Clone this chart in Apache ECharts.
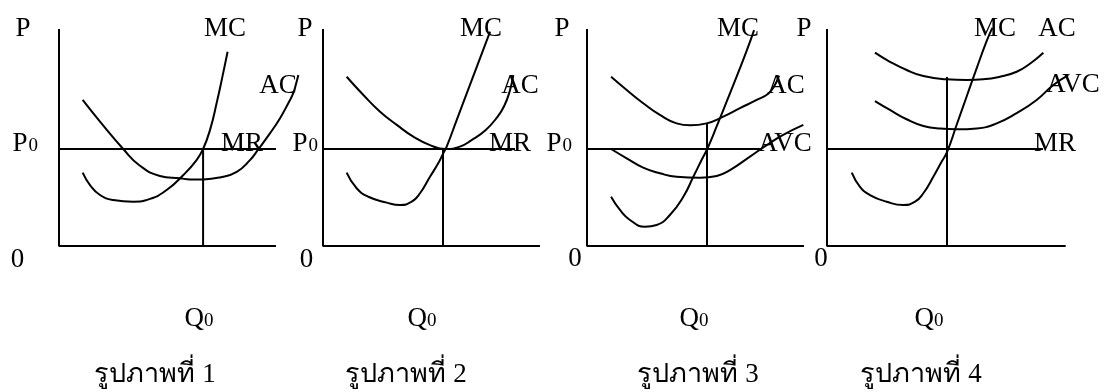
<!DOCTYPE html>
<html>
<head>
<meta charset="utf-8">
<script src="https://cdn.jsdelivr.net/npm/echarts@6/dist/echarts.min.js"></script>
<style>
html,body{margin:0;padding:0;background:#fff;}
#c{width:1105px;height:392px;}
</style>
</head>
<body>
<div id="c"></div>
<script>
// ---- data (units: Q horizontal, P vertical) ----
const P0 = 4.47;
const axisTopP = 10;                       // height of the P axis
const axisEndQ = [10, 10, 10, 11];         // length of the Q axis per panel
// Panel 1
const p1MC = [[1.09,3.38],[1.43,2.81],[1.89,2.35],[2.50,2.12],[3.42,2.04],[4.19,2.17],[4.96,2.58],[5.73,3.27],[6.34,3.96],[6.64,4.47],[6.96,5.35],[7.27,6.61],[7.57,7.99],[7.77,8.95]];
const p1AC = [[1.09,6.73],[1.89,5.73],[2.96,4.47],[3.73,3.70],[4.65,3.23],[5.58,3.12],[6.04,3.07],[6.65,3.07],[7.42,3.16],[8.19,3.42],[8.80,3.96],[9.18,4.45],[9.72,5.19],[10.18,5.88],[10.56,6.57],[10.79,7.03],[10.95,7.57],[11.03,7.88]];
const p1MRend = 10.0;
const p1Q0 = 6.64;
const p1Q0top = 4.47;
// Panel 2
const p2MC = [[1.09,3.38],[1.55,2.66],[2.09,2.27],[2.94,2.00],[3.55,1.89],[4.09,2.04],[4.47,2.43],[4.93,3.19],[5.31,3.81],[5.54,4.27],[5.70,4.58],[6.16,5.80],[6.62,7.02],[7.16,8.45],[7.70,9.88]];
const p2AC = [[1.09,7.80],[1.86,6.96],[2.63,6.19],[3.40,5.58],[4.16,5.04],[4.93,4.65],[5.65,4.47],[6.31,4.58],[6.85,4.88],[7.50,5.35],[8.00,5.90],[8.35,6.45],[8.62,7.19],[8.77,7.88]];
const p2MRend = 8.85;
const p2Q0 = 5.53;
const p2Q0top = 4.47;
// Panel 3
const p3MC = [[1.11,2.27],[1.52,1.66],[1.98,1.20],[2.67,0.89],[3.21,0.97],[3.82,1.43],[4.44,2.27],[4.90,3.19],[5.28,3.96],[5.54,4.47],[5.98,5.52],[6.44,6.66],[6.90,7.82],[7.36,9.00],[7.70,9.95]];
const p3AC = [[1.11,7.80],[1.83,7.19],[2.59,6.58],[3.36,6.04],[4.13,5.65],[4.75,5.56],[5.51,5.65],[6.28,5.96],[7.05,6.35],[7.82,6.73],[8.35,7.02],[8.62,7.35],[8.85,7.85]];
const p3AVC = [[1.11,4.47],[1.83,4.04],[2.59,3.61],[3.36,3.35],[4.13,3.19],[5.21,3.15],[5.98,3.23],[6.59,3.50],[7.51,4.12],[8.28,4.65],[9.04,5.12],[9.97,5.58]];
const p3MRend = 8.0;
const p3Q0 = 5.53;
const p3Q0top = 5.62;
// Panel 4
const p4MC = [[1.14,3.38],[1.52,2.73],[1.98,2.35],[2.75,2.04],[3.52,1.89],[4.06,2.04],[4.44,2.43],[4.90,3.19],[5.28,3.88],[5.54,4.35],[5.98,5.60],[6.44,6.90],[6.90,8.20],[7.36,9.45],[7.62,10.05]];
const p4AC = [[2.21,8.91],[2.90,8.49],[3.67,8.11],[4.44,7.83],[5.51,7.68],[6.44,7.65],[7.20,7.68],[7.97,7.80],[8.74,8.03],[9.35,8.40],[9.97,8.91]];
const p4AVC = [[2.21,6.68],[2.90,6.27],[3.67,5.84],[4.44,5.53],[5.21,5.41],[5.98,5.38],[6.90,5.42],[7.82,5.65],[8.74,6.12],[9.66,6.73],[10.43,7.42],[11.12,7.88]];
const p4MRend = 9.95;
const p4Q0 = 5.53;
const p4Q0top = 7.79;

const captions = ['รูปภาพที่ 1','รูปภาพที่ 2','รูปภาพที่ 3','รูปภาพที่ 4'];

// ---- layout ----
const FONT = '"Liberation Serif","Times New Roman","DejaVu Serif",serif';
const UNIT = 21.7;       // px per data unit
const XMAX = 12, YMAX = 11;
const origins = [[59,246],[323,246],[587,246],[827,246]];
const grids = origins.map(o=>({left:o[0], top:o[1]-YMAX*UNIT, width:XMAX*UNIT, height:YMAX*UNIT}));
const lineStyle = {color:'#000', width:2};

function curve(idx, data, smooth){
  return {type:'line', xAxisIndex:idx, yAxisIndex:idx, data:data, smooth:smooth?0.5:false,
    symbol:'none', clip:false, silent:true, lineStyle:lineStyle, z:3};
}
const series = [];
for (let i=0;i<4;i++){
  series.push(curve(i,[[0,axisTopP],[0,0],[axisEndQ[i],0]],false));
}
series.push(
  curve(0,p1MC,true), curve(0,p1AC,true),
  curve(0,[[0,P0],[p1MRend,P0]],false), curve(0,[[p1Q0,0],[p1Q0,p1Q0top]],false),
  curve(1,p2MC,true), curve(1,p2AC,true),
  curve(1,[[0,P0],[p2MRend,P0]],false), curve(1,[[p2Q0,0],[p2Q0,p2Q0top]],false),
  curve(2,p3MC,true), curve(2,p3AC,true), curve(2,p3AVC,true),
  curve(2,[[0,P0],[p3MRend,P0]],false), curve(2,[[p3Q0,0],[p3Q0,p3Q0top]],false),
  curve(3,p4MC,true), curve(3,p4AC,true), curve(3,p4AVC,true),
  curve(3,[[0,P0],[p4MRend,P0]],false), curve(3,[[p4Q0,0],[p4Q0,p4Q0top]],false)
);

function axisCommon(){
  return {type:'value', min:0, axisLine:{show:false}, axisTick:{show:false}, axisLabel:{show:false}, splitLine:{show:false}};
}
const xAxes = grids.map((g,i)=>Object.assign(axisCommon(), {gridIndex:i, max:XMAX}));
const yAxes = grids.map((g,i)=>Object.assign(axisCommon(), {gridIndex:i, max:YMAX}));

function txt(s, x, y, size, align){
  return {type:'text', x:x, y:y, silent:true, z:10,
    style:{text:s, font:(size||27)+'px '+FONT, fill:'#000', textAlign:align||'center', textVerticalAlign:'middle'}};
}
function sub(main, x, yBase){
  return [
    txt(main, x, yBase-8.2, 27, 'left'),
    txt('0', x+(main==='Q'?19.5:16), yBase-5.8, 19, 'left')
  ];
}

const graphics = [
  txt('P',23,28.5), txt('MC',225,28.5), txt('AC',278,85.5), txt('MR',242,143.5), txt('0',17.5,260),
  ...sub('P',12.5,152),
  txt('P',305,28.5), txt('MC',481,28.5), txt('AC',520,85.5), txt('MR',510,143.5), txt('0',306.5,259.5),
  ...sub('P',292.5,152),
  txt('P',562,28.5), txt('MC',738,28.5), txt('AC',786,85.5), txt('AVC',785,143.5), txt('0',575,259),
  ...sub('P',546.5,152),
  txt('P',804,28.5), txt('MC',995,28.5), txt('AC',1057,28.5), txt('AVC',1073,84.5), txt('MR',1055,143.5), txt('0',821,258.5),
  ...sub('Q',184.5,327), ...sub('Q',407.5,327), ...sub('Q',679.5,327), ...sub('Q',914.5,327),
  txt(captions[0],155,375), txt(captions[1],406,375), txt(captions[2],698,375), txt(captions[3],921,375)
];

const chart = echarts.init(document.getElementById('c'), null, {renderer:'canvas'});
chart.setOption({
  backgroundColor:'#fff',
  animation:false,
  grid: grids.map(g=>({left:g.left, top:g.top, width:g.width, height:g.height, containLabel:false})),
  xAxis: xAxes,
  yAxis: yAxes,
  series: series,
  graphic: graphics
});
</script>
</body>
</html>
